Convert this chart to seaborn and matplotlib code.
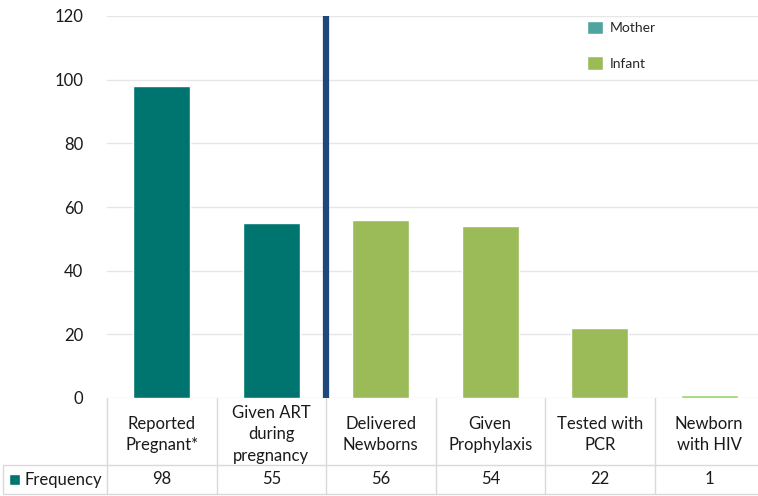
import matplotlib
matplotlib.use("Agg")
import matplotlib.pyplot as plt
from matplotlib.patches import Patch, Rectangle
import seaborn as sns
import pandas as pd

# categories shown in the data table under the bars
categories = [
    "Reported\nPregnant*",
    "Given ART\nduring\npregnancy",
    "Delivered\nNewborns",
    "Given\nProphylaxis",
    "Tested with\nPCR",
    "Newborn\nwith HIV",
]
frequency = [98, 55, 56, 54, 22, 1]
group = ["Mother", "Mother", "Infant", "Infant", "Infant", "Infant"]
bar_colors = ["#00756F", "#00756F", "#9BBB59", "#9BBB59", "#9BBB59", "#97D36A"]
y_ticks = [0, 20, 40, 60, 80, 100, 120]

FONT = ["Lato", "DejaVu Sans"]
TEXT_COLOR = "#1A1A1A"


def main():
    sns.set_style("white")
    plt.rcParams["font.family"] = FONT

    df = pd.DataFrame({"Category": categories, "Frequency": frequency, "Group": group})

    fig = plt.figure(figsize=(7.58, 4.96), dpi=100)
    W, H = 758, 496
    left, right, top, bottom = 107, 764, 16, 398
    ax = fig.add_axes([left / W, 1 - bottom / H, (right - left) / W, (bottom - top) / H])

    sns.barplot(
        data=df, x="Category", y="Frequency", hue="Category",
        palette=bar_colors, legend=False, width=0.52, ax=ax, saturation=1,
    )
    ax.set_xlim(-0.5, len(categories) - 0.5)
    ax.set_ylim(0, 120)
    ax.set_yticks(y_ticks)
    ax.set_yticklabels([str(t) for t in y_ticks], fontsize=12, color=TEXT_COLOR)
    ax.tick_params(axis="y", length=0, pad=17)
    ax.set_xticks([])
    ax.set_xlabel("")
    ax.set_ylabel("")
    for s in ax.spines.values():
        s.set_visible(False)
    ax.yaxis.grid(True, color="#E6E6E6", linewidth=1)
    ax.set_axisbelow(True)

    # divider between mother and infant groups
    ax.axvline(1.5, color="#1F497D", linewidth=4.5, zorder=3)

    # legend
    handles = [Patch(facecolor="#4FA49F", label="Mother"),
               Patch(facecolor="#9BBB59", label="Infant")]
    ax.legend(handles=handles, loc="upper left", bbox_to_anchor=(0.712, 1.02),
              frameon=False, fontsize=10, labelspacing=1.6,
              handlelength=1.1, handleheight=1.1, handletextpad=0.5)

    # data table below the axes (pixel coordinates converted to figure fractions)
    def fx(px):
        return px / W

    def fy(py):
        return 1 - py / H

    col_w = (right - left) / len(categories)
    row1_top, row1_bot, row2_bot = 398, 465, 494
    line_kw = dict(color="#D9D9D9", linewidth=1, transform=fig.transFigure)
    # horizontal lines
    fig.lines.append(plt.Line2D([fx(3), fx(right)], [fy(row1_bot)] * 2, **line_kw))
    fig.lines.append(plt.Line2D([fx(3), fx(right)], [fy(row2_bot)] * 2, **line_kw))
    # vertical lines
    fig.lines.append(plt.Line2D([fx(3), fx(3)], [fy(row1_bot), fy(row2_bot)], **line_kw))
    for i in range(len(categories) + 1):
        x = left + i * col_w
        fig.lines.append(plt.Line2D([fx(x), fx(x)], [fy(row1_top), fy(row2_bot)], **line_kw))

    for i, (cat, val) in enumerate(zip(categories, frequency)):
        cx = left + (i + 0.5) * col_w
        fig.text(fx(cx), fy((row1_top + row1_bot) / 2 + 3), cat, ha="center", va="center",
                 fontsize=12, color=TEXT_COLOR, linespacing=1.4)
        fig.text(fx(cx), fy((row1_bot + row2_bot) / 2), str(val), ha="center", va="center",
                 fontsize=12, color=TEXT_COLOR)

    fig.patches.append(Rectangle((fx(9), fy(485)), fx(11), 11 / H, facecolor="#00756F",
                                 transform=fig.transFigure))
    fig.text(fx(25), fy((row1_bot + row2_bot) / 2), "Frequency", ha="left", va="center",
             fontsize=12, color=TEXT_COLOR)

    fig.savefig("out.png", dpi=100)


if __name__ == "__main__":
    main()
